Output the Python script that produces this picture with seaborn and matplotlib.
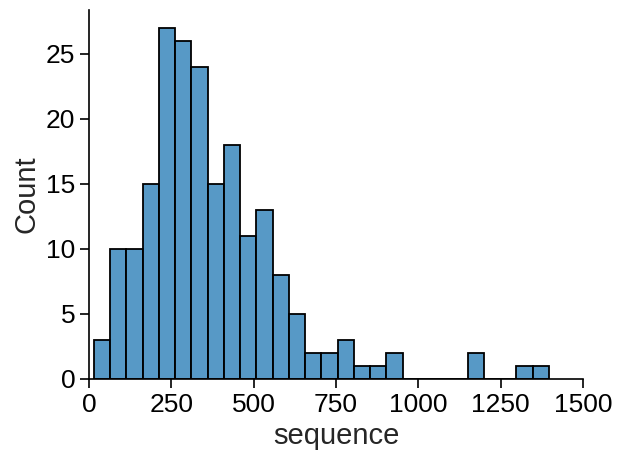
import matplotlib.pyplot as plt
import numpy as np
import pandas as pd
import seaborn as sns

# histogram of "sequence": 28 bins of ~49.4 between ~14 and ~1397
BIN_START = 14
BIN_END = 1397
bin_counts = [3, 10, 10, 15, 27, 26, 24, 15, 18, 11, 13, 8, 5, 2, 2, 3, 1, 1, 2,
              0, 0, 0, 0, 2, 0, 0, 1, 1]


def main():
    edges = np.linspace(BIN_START, BIN_END, len(bin_counts) + 1)
    df = pd.DataFrame({"sequence": (edges[:-1] + edges[1:]) / 2,
                       "n": bin_counts})

    sns.set_theme(style="ticks")
    plt.rcParams["font.family"] = ["Liberation Sans", "DejaVu Sans"]

    fig, ax = plt.subplots(figsize=(6.24, 4.62), dpi=100)
    sns.histplot(data=df, x="sequence", weights="n", bins=len(bin_counts),
                 binrange=(BIN_START, BIN_END), ax=ax, color="#1f77b4",
                 edgecolor="black", linewidth=1.3)
    sns.despine(ax=ax)

    ax.set_xlim(0, 1500)
    ax.set_xticks([0, 250, 500, 750, 1000, 1250, 1500])
    ax.set_yticks([0, 5, 10, 15, 20, 25])
    ax.set_xlabel("sequence", fontsize=21, labelpad=4)
    ax.set_ylabel("Count", fontsize=21)
    ax.tick_params(labelsize=19, colors="black", width=1.2, length=6.5)
    for s in ax.spines.values():
        s.set_linewidth(1.2)
        s.set_color("black")

    fig.subplots_adjust(left=0.143, right=0.934, bottom=0.18, top=0.978)
    fig.savefig("out.png", dpi=100)


if __name__ == "__main__":
    main()
